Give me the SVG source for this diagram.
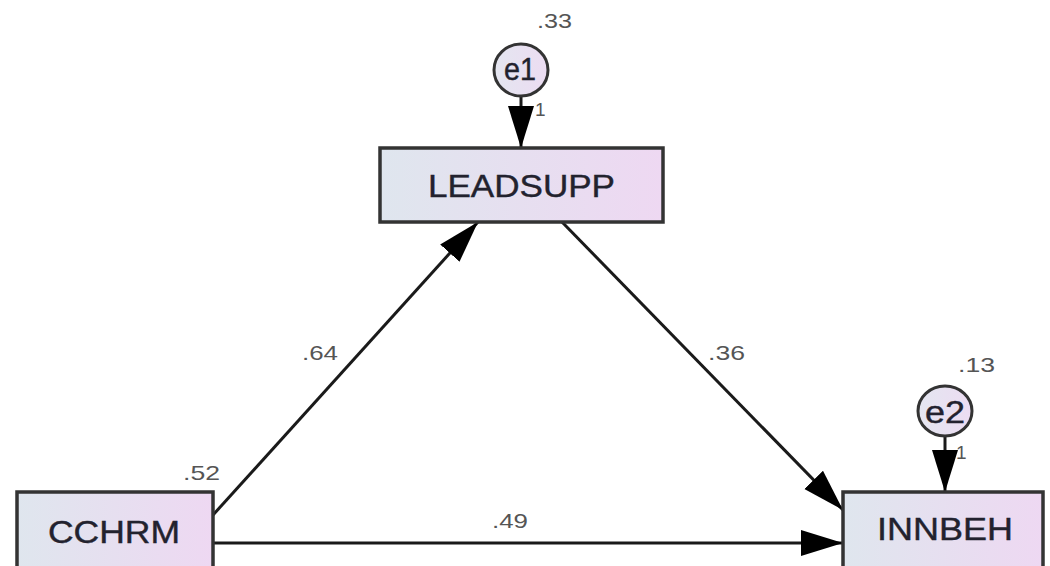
<svg xmlns="http://www.w3.org/2000/svg" width="1050" height="566" viewBox="0 0 1050 566">
  <defs>
    <linearGradient id="boxFill" x1="0" y1="0" x2="1" y2="0">
      <stop offset="0" stop-color="#dfe6ee"/>
      <stop offset="1" stop-color="#eed8f2"/>
    </linearGradient>
    <linearGradient id="circFill" x1="0" y1="0" x2="1" y2="0">
      <stop offset="0" stop-color="#e4e6f0"/>
      <stop offset="1" stop-color="#ecdcf2"/>
    </linearGradient>
    <marker id="arrow" markerUnits="userSpaceOnUse" markerWidth="44" markerHeight="28" refX="42" refY="14" orient="auto">
      <path d="M0,1 L42,14 L0,27 Z" fill="#000"/>
    </marker>
    <style>
      .box { fill: url(#boxFill); stroke: #333; stroke-width: 3.5; }
      .circ { fill: url(#circFill); stroke: #333; stroke-width: 3; }
      .lbl { font-family: "Liberation Sans", Arial, sans-serif; fill: #22222e; font-size: 31px; stroke: #22222e; stroke-width: 0.4; }
      .coef { font-family: "Liberation Sans", Arial, sans-serif; fill: #555; font-size: 21px; }
      .one { font-family: "Liberation Sans", Arial, sans-serif; fill: #555; font-size: 19px; }
      .edge { stroke: #1a1a1a; stroke-width: 3; fill: none; marker-end: url(#arrow); }
    </style>
  </defs>
  <rect width="1050" height="566" fill="#ffffff"/>

  <g id="connectors">
    <line class="edge" x1="521" y1="97" x2="521" y2="148"/>
    <line class="edge" x1="945" y1="437" x2="945" y2="492"/>
    <line class="edge" x1="213" y1="515" x2="478" y2="222"/>
    <line class="edge" x1="562" y1="222" x2="843" y2="510"/>
    <line class="edge" x1="213" y1="543" x2="843" y2="543"/>
  </g>

  <g id="LEADSUPP">
    <rect class="box" x="380" y="148" width="283" height="74"/>
    <text class="lbl" x="428" y="197" textLength="187" lengthAdjust="spacingAndGlyphs">LEADSUPP</text>
    <text class="coef" x="537" y="28" textLength="35" lengthAdjust="spacingAndGlyphs">.33</text>
  </g>

  <g id="e1">
    <ellipse class="circ" cx="521" cy="70" rx="27" ry="26"/>
    <text class="lbl" x="504" y="80" textLength="32" lengthAdjust="spacingAndGlyphs">e1</text>
    <text class="one" x="535" y="116">1</text>
  </g>

  <g id="CCHRM">
    <rect class="box" x="17" y="492" width="196" height="90"/>
    <text class="lbl" x="48" y="543" textLength="132" lengthAdjust="spacingAndGlyphs">CCHRM</text>
    <text class="coef" x="183" y="480" textLength="37" lengthAdjust="spacingAndGlyphs">.52</text>
  </g>

  <g id="INNBEH">
    <rect class="box" x="843" y="492" width="200" height="90"/>
    <text class="lbl" x="877" y="540" textLength="136" lengthAdjust="spacingAndGlyphs">INNBEH</text>
    <text class="coef" x="958" y="372" textLength="37" lengthAdjust="spacingAndGlyphs">.13</text>
  </g>

  <g id="e2">
    <ellipse class="circ" cx="945" cy="411" rx="27" ry="25"/>
    <text class="lbl" x="925" y="423" textLength="40" lengthAdjust="spacingAndGlyphs">e2</text>
    <text class="one" x="956" y="459">1</text>
  </g>

  <g id="edge-labels">
    <text class="coef" x="302" y="360" textLength="36" lengthAdjust="spacingAndGlyphs">.64</text>
    <text class="coef" x="708" y="360" textLength="37" lengthAdjust="spacingAndGlyphs">.36</text>
    <text class="coef" x="492" y="528" textLength="36" lengthAdjust="spacingAndGlyphs">.49</text>
  </g>
</svg>
